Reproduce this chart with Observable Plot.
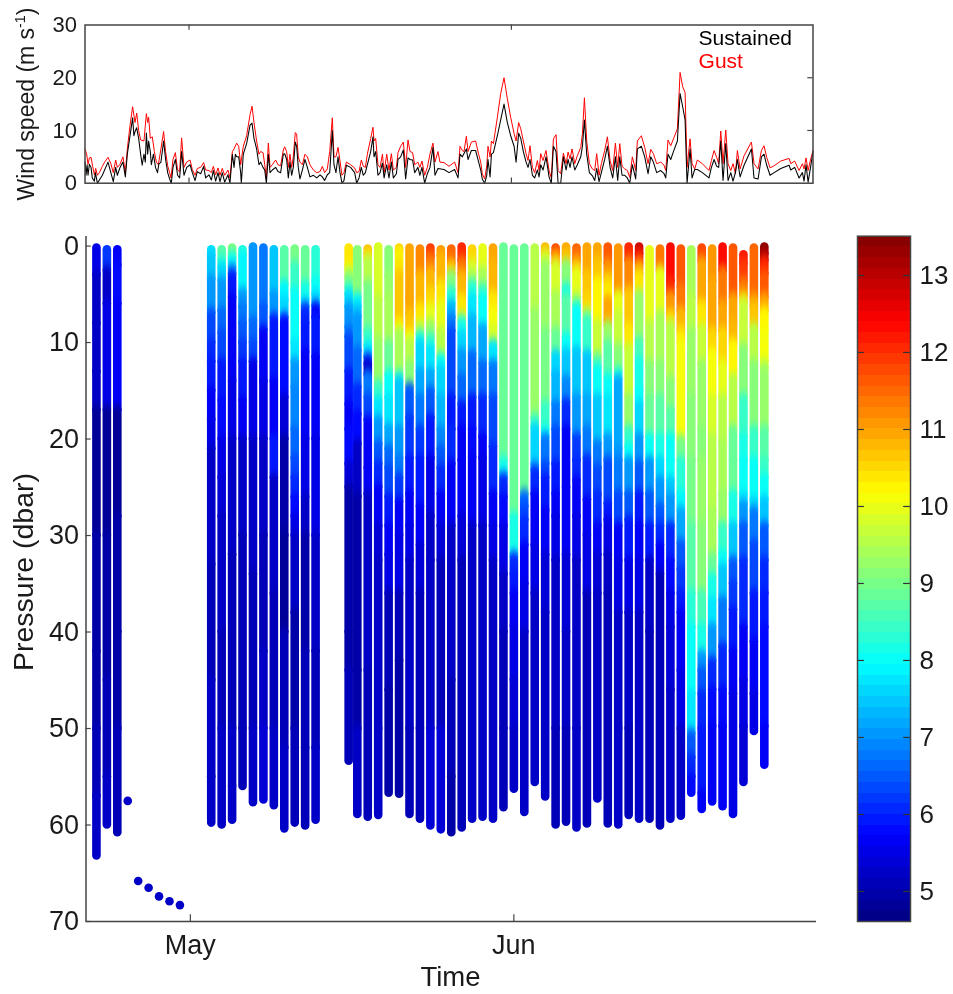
<!DOCTYPE html>
<html>
<head>
<meta charset="utf-8">
<script src="https://cdn.jsdelivr.net/npm/d3@7"></script>
<script src="https://cdn.jsdelivr.net/npm/@observablehq/plot@0.6"></script>
<style>
html,body{margin:0;padding:0;background:#fff}
#c{position:relative;width:953px;height:994px;overflow:hidden;filter:blur(0.35px)}
#c svg{position:absolute;left:0;top:0}
</style>
</head>
<body>
<div id="c"></div>
<script>
// x values: days since 21 April
const monthTicks = [10, 41];
const monthLabels = ["May", "Jun"];

const gust = [[0,6.5],[.16,5.5],[.29,3.6],[.42,4.8],[.58,4.9],[.74,3.2],[.9,1.6],[1.03,2.8],[1.19,1.5],[1.38,2],[1.67,3.2],[1.89,4],[2.21,4.9],[2.47,3.8],[2.72,2],[2.95,4.4],[3.11,3],[3.37,3.6],[3.65,5],[3.88,2],[4.07,6.5],[4.33,11],[4.58,14.5],[4.81,11.5],[4.97,13.3],[5.16,10],[5.35,8.2],[5.67,8],[5.9,13.2],[6.03,11.5],[6.12,12.5],[6.28,8.5],[6.47,8.8],[6.67,6],[6.86,4],[7.05,3.5],[7.3,6.5],[7.56,9.8],[7.75,6],[7.95,3.3],[8.14,2],[8.27,1],[8.46,4.5],[8.69,5.8],[8.9,2.5],[9.1,2.2],[9.29,8.6],[9.52,3],[9.78,4],[10.1,4.4],[10.32,2.6],[10.58,1.5],[10.8,2.8],[11.12,3],[11.41,3.9],[11.6,2.5],[11.92,2.4],[12.15,2],[12.34,3.2],[12.56,1.6],[12.79,2.9],[12.98,1.5],[13.2,2.8],[13.43,1.5],[13.75,2.5],[13.94,1],[14.17,6],[14.33,6.5],[14.58,7.6],[14.78,7],[14.97,3.5],[15.22,7],[15.54,9],[15.87,13],[16.06,14.6],[16.25,11.5],[16.5,8],[16.73,5.5],[16.89,6],[17.12,5.8],[17.28,3.5],[17.44,1],[17.63,7.6],[17.79,3],[18.01,3.5],[18.33,4.4],[18.56,3.5],[18.81,3.3],[19.07,6.3],[19.2,6.9],[19.39,6],[19.55,3],[19.71,5.5],[19.87,3],[20.03,5],[20.22,9.6],[20.35,9.3],[20.51,5],[20.67,4],[20.9,3.5],[21.15,5.5],[21.38,5],[21.63,3.5],[21.96,2.5],[22.28,2],[22.6,2.2],[22.82,3.2],[23.04,2],[23.3,2.7],[23.53,6],[23.78,12.4],[23.94,5],[24.13,5],[24.33,6.8],[24.52,4.2],[24.71,1.5],[24.9,2],[25.13,4],[25.54,3.5],[25.93,2.9],[26.12,2],[26.35,2.2],[26.57,4.4],[26.76,3.2],[26.96,3],[27.15,5.5],[27.47,8.5],[27.69,10.6],[27.79,8],[27.95,8.5],[28.17,3.5],[28.37,3],[28.6,5.5],[28.76,2],[29.01,5.5],[29.23,2.5],[29.46,5.6],[29.65,2.5],[29.94,3],[30.1,5.8],[30.35,7],[30.61,7.8],[30.83,3],[31.06,8.2],[31.25,6],[31.5,5.8],[31.7,3.5],[32.01,4],[32.2,3],[32.4,4.2],[32.66,1.5],[32.92,3],[33.17,5.5],[33.46,7.6],[33.65,4],[33.94,6],[34.13,4],[34.52,3.9],[35,3.2],[35.54,4],[35.87,2],[36.06,7],[36.28,6.2],[36.44,6],[36.67,8.9],[36.83,6],[37.15,7.8],[37.56,8],[37.85,5.5],[38.05,4],[38.2,1.8],[38.43,.8],[38.63,3.3],[38.75,7],[38.95,5],[39.08,8],[39.27,7.5],[39.65,12.5],[39.97,17],[40.29,20],[40.61,16],[40.93,12.5],[41.26,9.4],[41.45,8],[41.7,11.5],[41.9,10.3],[42.15,8],[42.41,5.6],[42.6,4.3],[42.79,7.1],[43.02,3],[43.24,2],[43.5,4.3],[43.66,2.4],[43.82,5.6],[44.04,4.3],[44.33,6.2],[44.62,2.4],[44.84,1],[45.04,8.4],[45.29,9.2],[45.49,2.4],[45.74,1.8],[46,5.7],[46.26,3.7],[46.45,5.9],[46.64,4.6],[46.83,6.5],[47.09,3.7],[47.34,5.2],[47.67,6.8],[47.83,9.4],[48.02,16.2],[48.24,8],[48.5,3.7],[48.79,2.7],[49.01,2.4],[49.2,5.6],[49.43,1.5],[49.65,3.7],[49.97,6.2],[50.23,8.8],[50.49,4.3],[50.74,2.4],[51,7.6],[51.22,3],[51.42,7.5],[51.64,3.2],[51.9,2.7],[52.15,2.4],[52.38,1.1],[52.63,5],[52.95,2.4],[53.11,8],[53.5,9],[53.82,6.8],[54.14,3.7],[54.4,6.4],[54.65,5.6],[54.97,3.7],[55.36,4],[55.68,3.4],[55.84,2.4],[56.06,8.2],[56.32,7.1],[56.58,8.4],[56.96,10.3],[57.22,21],[57.47,18.3],[57.7,17.2],[57.89,3],[58.18,8.4],[58.37,3.7],[58.63,2.7],[58.88,4.4],[59.36,3.7],[60,2.4],[60.23,4.3],[60.49,6.2],[60.74,4.9],[60.93,3.7],[61.13,9.9],[61.35,3.7],[61.61,10.1],[61.83,3.7],[62.09,2.4],[62.31,3.7],[62.54,1.8],[62.73,6.2],[62.99,2.7],[63.37,5.2],[64.08,7.8],[64.33,3.7],[64.72,2.7],[65.04,6.2],[65.29,7.1],[65.55,4.9],[65.87,2.9],[66.26,3.3],[66.9,4.2],[67.7,4.7],[67.86,3.7],[68.24,4.2],[68.66,2.4],[68.98,3.7],[69.14,2.7],[69.33,4.8],[69.53,2.4],[69.78,4.6],[70,6.2]];

const sustained = [[0,4],[.1,1.5],[.2,3.5],[.29,1.5],[.42,3.6],[.58,3],[.7,1],[.9,.4],[1,2],[1.19,0],[1.38,.6],[1.67,1.5],[2.21,4],[2.72,.3],[2.95,3],[3.11,1.5],[3.37,3],[3.65,4],[3.88,1.2],[4.07,5.5],[4.58,12.4],[4.7,9],[4.81,9.8],[4.97,10.5],[5.16,8.5],[5.35,5.5],[5.5,3.4],[5.67,5.5],[5.8,4],[5.9,9.5],[6.03,5.5],[6.12,8],[6.28,6],[6.38,3.5],[6.58,5.5],[6.78,3],[6.97,2],[7.1,3.6],[7.3,4],[7.56,8],[7.75,4.5],[7.95,2],[8.14,.8],[8.3,0],[8.46,3],[8.69,4.5],[8.9,1.5],[9.1,1],[9.29,6],[9.52,1.5],[9.78,3],[10.1,3.5],[10.32,2],[10.58,.5],[10.8,2.2],[11.12,1.8],[11.41,3.2],[11.6,1],[11.92,1.6],[12.15,.6],[12.34,2.4],[12.56,.4],[12.79,2],[12.98,.3],[13.2,2],[13.43,.2],[13.75,1.6],[13.94,0],[14.17,5.5],[14.33,3],[14.46,5.5],[14.58,5],[14.78,5],[14.97,2],[15.03,0],[15.22,5.5],[15.54,7.5],[15.87,11],[16.06,11.4],[16.25,8.5],[16.5,6.5],[16.73,3.5],[16.89,4],[17.12,3],[17.28,2.5],[17.44,0],[17.63,5.5],[17.79,2],[18.01,2.5],[18.33,3],[18.56,2.2],[18.81,2],[19.07,5.5],[19.2,5.6],[19.39,4.5],[19.55,1],[19.71,4],[19.87,1.5],[20.03,3],[20.22,7.8],[20.35,7],[20.51,3],[20.67,.8],[20.9,2.5],[21.15,4.5],[21.38,3],[21.63,1.2],[21.96,1.5],[22.28,1],[22.6,1.6],[22.82,1.2],[23.04,.5],[23.3,1.6],[23.53,2],[23.78,10],[23.94,3.5],[24.13,2],[24.33,5],[24.52,2],[24.71,0],[24.9,.5],[25.13,3.4],[25.54,3],[25.93,2],[26.12,0],[26.35,1],[26.57,3],[26.76,1.5],[26.96,2],[27.15,3.5],[27.47,6],[27.69,8.8],[27.79,5],[27.95,6],[28.17,1.5],[28.37,2],[28.6,3.8],[28.76,1],[29.01,3.5],[29.23,1],[29.46,4],[29.65,1],[29.94,1.8],[30.1,4.5],[30.35,5],[30.61,6.3],[30.83,.8],[31.06,4.8],[31.25,4.5],[31.5,4.4],[31.7,2],[32.01,3],[32.2,1.5],[32.4,3],[32.66,0],[32.92,1.8],[33.17,3],[33.46,6.8],[33.65,1.5],[33.94,2.8],[34.52,2.6],[35,2],[35.54,2.6],[35.87,1],[36.06,5.5],[36.28,5],[36.67,6.5],[36.83,4.5],[37.15,6.2],[37.56,6.2],[37.85,4],[38.05,2.5],[38.2,.8],[38.43,0],[38.63,1.5],[38.75,4.5],[38.95,1.2],[39.08,5.5],[39.27,5.8],[39.65,9],[39.97,12],[40.29,15],[40.61,11.5],[40.93,9],[41.26,7],[41.45,4],[41.7,9.5],[41.9,8.5],[42.15,6],[42.41,4],[42.6,3],[42.79,4.5],[43.02,1.5],[43.24,1],[43.5,2.5],[43.66,1.2],[43.82,3.5],[44.04,2.5],[44.33,5],[44.62,1.2],[44.84,0],[45.04,7],[45.29,6],[45.49,0],[45.74,0],[46,5],[46.26,2.5],[46.45,4.5],[46.64,3],[46.83,5],[47.09,2.5],[47.34,3.5],[47.67,5],[47.83,7],[48.02,12],[48.24,5.5],[48.5,2],[48.79,1.4],[49.01,.5],[49.2,2.8],[49.43,.3],[49.65,2],[49.97,4.5],[50.23,7],[50.49,3],[50.74,1],[51,5],[51.22,.5],[51.42,5],[51.64,1.5],[51.9,1.5],[52.15,1],[52.38,0],[52.63,3.5],[52.95,.8],[53.11,6.5],[53.5,7],[53.82,5],[54.14,1.8],[54.4,5],[54.65,4],[54.97,2],[55.36,2.4],[55.68,1.8],[55.84,1],[56.06,5.5],[56.32,4.5],[56.58,6],[56.96,8],[57.22,17],[57.47,14.5],[57.7,12],[57.89,0],[58.18,6.5],[58.37,1],[58.63,2.6],[58.88,2.6],[59.36,2],[60,1],[60.23,3],[60.49,4.5],[60.74,3.2],[60.93,3],[61.13,8],[61.35,.5],[61.61,7.5],[61.83,.5],[62.09,2],[62.31,.4],[62.54,2],[62.73,4.5],[62.99,1.2],[63.37,3.4],[64.08,6.5],[64.33,1],[64.72,.8],[65.04,5],[65.29,5.5],[65.55,3.4],[65.87,1.5],[66.26,2],[66.9,2.8],[67.7,3.4],[67.86,2.5],[68.24,3],[68.66,1],[68.98,2],[69.14,.4],[69.33,3.5],[69.53,.2],[69.78,3.2],[70,6]];

// [day, bottom pressure, [pressure, temperature, ...]]
const profiles = [
[1,63.2,[.2,5.5,3,5.2,8,5.3,13,5.2,17,4.85,30,4.9,42,5,50,5.1,57,5.2]],
[2,60,[.4,6.2,2.5,5.2,6,5.5,17,4.8,30,4.95,45,5.05,55,5.25]],
[3,60.8,[.4,5.7,2,5.8,6,5.6,17,4.85,28,4.95,40,5,50,5.15]],
[12,59.8,[.4,7.7,1,7.4,3.4,7,6.9,6.4,10,6.1,12,5.9,15,5.6,18,5.45,21,5.3,33,5.15,45,5.2,55,5.25]],
[13,60,[.4,8.7,1.5,8.1,2.2,7.6,3.6,7.1,6.7,6.6,9,6.3,12,6,16,5.8,20,5.5,24,5.35,28,5.25,40,5.15,50,5.3]],
[14,59.5,[.2,9.1,.8,8.6,1.2,8,2.2,7.1,2.9,5.9,5.3,5.7,14,5.5,20,5.3,32,5.15,50,5.2,56,5.25]],
[15,56,[.4,8.3,1,7.9,4.8,7.1,6.3,6.8,8,6.5,10,6.2,12,6,16,5.7,20,5.3,30,5.1,50,5.05]],
[16,57.7,[.1,7,7.7,6.6,10,6.3,12,5.5,20,5.2,34,5.05,50,5.3]],
[17,57.4,[.2,6.8,6.3,6.5,8.7,5.6,14,5.45,20,5.3,30,5.1,42,5.2,50,5.4]],
[18,58,[.4,7.4,5,7.1,7.4,5.9,14,5.7,20,6,24,5.3,36,5.05,50,5.25]],
[19,60.4,[.4,8.7,4,7.9,5.6,7.6,7.4,5.8,15.7,5.4,20,4.9,30,4.85,40,5.05,52,5.2]],
[20,59.8,[.3,9,2,8.4,4.6,8,10,7.8,12,7.1,14.6,6.9,19,6.6,22,6.4,24,6.1,26,5.8,28,5.55,30,5.3,38,5,50,5.15]],
[21,60.1,[.4,8.9,4,8.2,5.5,7.7,6.3,6.1,8,6,11,5.7,20,5.5,26,5.25,30,5,42,5.05,52,5.15]],
[22,59.5,[.4,8.3,3.6,8,5,7.6,6.2,5.7,7.4,6,11.5,5.7,20,5.5,30,5.25,42,5.1,52,5.25]],
[25.17,53.4,[.2,10.4,2,10.2,2.5,9.6,3.2,9,4.3,8.3,5,7.6,6.3,7.1,8.4,6.8,9.4,6.3,13,5.9,16.4,5.6,19,5.8,22.6,5.4,25,5,40,5,44,5.05]],
[26,58.9,[.4,9.1,5.3,7.9,6.3,7.4,7.3,7.1,10.8,6.6,14.6,6.1,17.4,5.8,20.5,5.2,26,4.95,44,5,50,5.25]],
[27,59.2,[.3,10.8,.8,10.4,1.3,9.6,3.9,9,8.8,8.4,10.3,7.7,11.5,6.1,12.2,5.3,13.3,6.7,15.7,6.4,18,5.7,23,5.7,25.7,5.3,44,5.15]],
[28,59,[.1,9.8,5.6,9.5,9.8,9.2,14.3,8.4,16,7.8,18,7.1,20.5,6.5,22.6,6.1,25,5.6,29,5.4,32.6,5.25,50,5.25]],
[29,56.7,[.4,9.1,3.2,9.2,5.3,9.4,10.1,8.9,13.3,8,15.7,7.7,18.8,7.2,21,6.6,23,6.3,26,6,29,5.7,32,5.45,36,5.15,46,5]],
[30,56.8,[.2,10.8,.5,10.2,1.5,10.4,2.9,10.7,8,10.2,8.8,9.4,13.3,8.3,14,7.5,19,7,22,6.8,24,6.2,26.5,5.7,30,5.45,36,5.15,43,5]],
[31,58.9,[.2,11,5.3,11,7,10.7,9.1,10.1,9.8,9.6,12.2,9.1,14.6,6.5,17.8,6.2,22,5.9,25.7,5.6,29,5.45,32.6,5.25,50,5.15]],
[32,59.4,[.3,11.2,2.9,10.8,6.3,10.4,8,9.7,9.1,8.3,10,7.6,13,7.2,15.7,6.7,19,6.2,22,6,27,5.6,31,5.35,36,5.15,50,5.15]],
[33,60.1,[.2,11.9,1.1,11.3,2.5,10.8,4.6,10.5,6.3,10,8,9.2,9.4,8.4,10.5,7.7,13,7.2,15,6.5,17.8,5.9,22,5.5,28,5.3,32.6,5.2,50,5.35]],
[34,60.5,[.4,11.1,1,10.8,3.9,10.4,6,10,8.8,9.6,11.5,8,12.6,7.6,15.7,7.3,19,6.9,21,6.5,23,6.1,25.7,5.6,29,5.35,32.6,5.15,50,5.35]],
[35,60.8,[.3,11.5,1.8,10.7,2.9,9.1,4.6,8.3,6,7.3,7.4,6.7,8.8,6.3,15.7,5.9,19,6.1,22.6,5.6,29,5.2,45,5.05,55,5]],
[36,60.3,[.1,12,1.5,11.3,2.9,10.8,5.3,10.4,7.2,9.6,7.7,8.1,9.1,7.6,11,7,13.6,6.6,16.4,5.9,19,5.7,22.2,5.6,28,5.35,32.6,5.15]],
[37,59.4,[.3,10.5,1.8,9.8,2.9,9.4,3.9,8.3,5.3,7.8,7.4,7.3,11.2,6.6,15.7,6,19,5.8,21.9,5.6,29,5.25]],
[38,59.2,[.2,10,2.5,9.4,4.3,8.5,5.3,8,8.4,7.2,12.2,6.6,15.7,6.1,19.8,5.6,22,5.5,29,5.25]],
[39,59.4,[.2,11,1.8,10.8,5,10.4,6.7,10.1,8.4,9.8,10.1,7.8,12.2,6.8,15.7,6.3,20.8,6.1,25.7,5.7,29,5.45,32.6,5.25]],
[40,58.2,[.1,8.8,22.2,8.2,23.5,7.6,24,6.1,26,5.75,29,5.5,34,5.3,40,5.15,50,5.1]],
[41,56.3,[.3,8.9,28,8.2,31.9,7.6,32.2,6.1,34,5.9,36,5.7,39.4,5.5,45,5.35,50,5.25]],
[42,58.7,[.2,8.9,25.7,6.6,27,6.3,28.4,6.1,31,5.7,35,5.5,40,5.3]],
[43,55.6,[.2,9.6,6.7,9.2,15.7,9.3,17.8,8.5,18.8,7.6,22.6,7.2,23.2,6.1,25.7,5.7,31,5.45,36,5.25]],
[44,57.1,[.1,10.8,.8,9.8,1.8,9.2,8.8,9,16.4,8.5,19,8,19.8,6.7,22.6,6.4,24,6,27.4,5.6,32,5.4,38,5.25]],
[45,60,[.2,11.9,.8,11,1.8,9.8,5,9.4,8.8,8.9,11.2,7.6,13.3,7.3,16.4,6.8,19,6.3,22.6,6,25.7,5.7,28,5.5,32.6,5.25,50,5.15]],
[46,59.7,[.1,11,.8,10.7,1.8,9.1,4.3,8.2,5.3,8.7,9.4,8,11,7.4,13.8,6.9,16.2,6.1,19,5.7,25,5.6,32,5.35,40,5.2,50,5.15]],
[47,60.3,[.2,11.5,1.5,10.8,2.5,10,5.3,9.2,6.2,8,10.8,7.5,15.7,7,19.8,6.2,22.2,6.1,24.3,5.7,28,5.45,32.6,5.25,50,5.2]],
[48,59.9,[.1,10.9,2.9,10.7,5.3,10.5,6.7,9.6,7.4,8.5,11.2,7.5,15.7,7.2,19,6.8,22,6.1,26.3,5.7,30,5.45,36,5.15]],
[49,57.3,[.1,10.9,1.5,10.6,3.6,10.2,8,9.7,11.5,8.7,12.6,8,15.7,7.5,20.5,6.8,23,6.4,25.7,6.1,29,5.6,32,5.4,36,5.2]],
[50,59.9,[.1,11.6,1.8,11.1,3.2,10.5,4.6,10.3,5.5,11,7.7,10.8,8.2,9.2,10.1,8.7,13.6,8,15.7,7.7,19.8,7,22.2,6.3,26.7,6,28.4,5.5,32,5.3,36,5.15]],
[51,60,[.2,11.1,5,10,7,9.7,10.5,9.1,13,8.2,13.8,7.2,21,7,22.2,6.8,25.7,6.3,29,5.7,32.6,5.45,38,5.3,50,5.2]],
[52,59,[.1,12.1,1.5,11.2,4.6,10.7,8.4,10.4,10.5,9.7,15.7,9.3,19,8.5,20.8,8,22.2,7,25.7,6.5,28.4,6,32.6,5.5,38,5.3,50,5.15]],
[53,59.4,[.1,12.9,.8,12,1.8,11,2.9,10.4,4.9,9.2,9.8,8.6,11.9,8.2,15,8,16.4,7.6,19.8,7,22.6,6.5,25.7,6,29,5.7,32.6,5.45,38,5.25]],
[54,59.4,[.4,10,8,9.6,12.2,9.1,15.7,8.8,19.8,8,22.2,7.1,25.7,6.5,29,5.9,32.6,5.3,40,5.15]],
[55,60.1,[.3,11.4,2.5,9.9,7,9.4,12.2,9.1,15.7,8.7,19.8,8.1,22.2,7.6,24.3,7,27,6.5,29,6.1,31,5.6,34,5.1]],
[56,59.4,[.1,12.3,3.6,12,5,11.1,7,10.5,8,9.6,13.9,9.1,17,8.7,19.8,8,22.2,8,24.3,7.5,26,7,29,6.1,32.6,5.8,36,5.55,39.5,5.35,46,5.2]],
[57,59.1,[.3,11.7,4.3,11.3,6.7,10.8,8.8,10.4,10,10.1,20,9,22.2,8.3,25.7,7.9,27.4,7.2,30.8,6.5,33.5,6.2,36,5.9,38,5.6,44,5.45,50,5.25]],
[58,56.7,[.4,9.4,5.3,9.5,8.8,9.3,15.7,9.1,22.2,9,29,8.7,36,8.3,39.5,8,46.4,7.8,50.5,6.5,53,6.1,55,5.8]],
[59,58.4,[.2,11.8,1.5,11,6,10.4,8.4,9.7,12.2,9.3,19,9.1,22.2,9.2,29,9.06,36,8.6,39.5,8.2,42.3,7.1,44,6.5,46.4,6.1,50,5.9,56.7,5.7]],
[60,57.6,[.3,11.1,3.6,10.9,8.8,10.5,11,10.1,15.7,9.8,19.8,9.5,27.4,9.4,32.2,8.9,34.3,8.2,36.7,7.8,39.5,7,43,6.1,46,5.8,49.8,5.6]],
[61,58.1,[.1,12.3,2.5,11.3,6,11,8.8,10.5,12.2,10,15.7,9.6,20.5,9.4,25.7,9.2,29,8.5,31.9,8,33.3,7.5,36.7,6.8,41.5,6.1,46,5.8,49.8,5.6]],
[62,58.9,[.2,11.6,5.3,11,8,10.8,10,10.3,13.6,9.6,19,8.9,22.2,8.8,25.7,8.2,29,7.5,32.6,6.5,35,6.2,37.7,5.9,42,5.7,46.4,5.5]],
[63,55.6,[.9,12.2,1.8,11.9,3.6,11.3,5.1,10.5,5.8,9.7,10.5,9.1,15.7,8.4,19.8,8.1,22.2,8,25.7,7.7,26.7,7,29,6.5,32.6,6.1,39.5,5.7,45,5.5,49.8,5.4]],
[64,50.3,[.2,11.5,5.3,11,6.3,10.7,8.4,9.6,12.2,9.1,19,8.4,22.2,8,26.3,7.6,27.4,6.8,30.8,6.3,36,5.9,41,5.7,46.4,5.5]],
[65,53.8,[.1,13.4,.8,13,1.5,12.1,2.9,11.6,5.3,10.9,6.7,10.3,8.8,10.1,11.9,9.8,12.6,9.2,19,8.7,22.2,8.4,24,8,26.3,7.5,29,6.5,32.6,6.1,36,5.9,39.5,5.8,49.8,5.6]]
];

const dotDays = [4, 5, 6, 7, 8, 9];
const dotPressures = [57.5, 65.8, 66.5, 67.4, 67.9, 68.3];
const dotTemps = [5.2, 5.2, 5.2, 5.2, 5.2, 5.2];

const legendLabels = ["Sustained", "Gust"];
const legendColors = ["#000", "#f00"];
const legendDays = [59, 59];
const legendSpeeds = [27.4, 23.2];

const windTicks = [0, 10, 20, 30];
const pressureTicks = [0, 10, 20, 30, 40, 50, 60, 70];
const colorbarTicks = [5, 6, 7, 8, 9, 10, 11, 12, 13];

const tMin = 4.61, tMax = 13.51, nLevels = 64;
const step = (tMax - tMin) / nLevels;
const band = t => tMin + (Math.min(nLevels - 1, Math.floor((t - tMin) / step)) + .5) * step;
const levels = d3.range(nLevels).map(i => tMin + i * step);
const jetStops = [0, .125, .375, .5, .625, .875, 1].map(f => tMin + f * (tMax - tMin));
const jetColors = ["#000080", "#0000ff", "#00ffff", "#80ff80", "#ffff00", "#ff0000", "#800000"];
const colorScale = {type: "linear", domain: jetStops, range: jetColors, interpolate: "rgb", clamp: true};

const font = "'Liberation Sans', Arial, sans-serif";
const axisColor = "#444";
const textColor = "#1a1a1a";

const segments = profiles.flatMap(([day, bottom, s]) => {
  const out = [];
  for (let i = 0; i < s.length; i += 2)
    out.push({day, p1: s[i], p2: i + 2 < s.length ? s[i + 2] : bottom, t: band(s[i + 1])});
  return out;
});
const dots = dotDays.map((day, i) => ({day, p: dotPressures[i], t: band(dotTemps[i])}));
const toXY = a => a.map(([d, v]) => ({d, v}));

const c = document.getElementById("c");

function addLabel(svg, x, y, size, parts) {
  const t = d3.select(svg).append("text")
    .attr("transform", `translate(${x},${y}) rotate(-90)`)
    .attr("text-anchor", "middle")
    .attr("font-family", font).attr("font-size", size).attr("fill", textColor);
  parts.forEach(([s, sup]) => {
    const ts = t.append("tspan").text(s);
    if (sup) ts.attr("font-size", size * .62).attr("dy", -size * .38);
    else if (parts.length > 1 && s.startsWith(")")) ts.attr("dy", size * .38);
  });
}

// ---- wind panel
const wind = Plot.plot({
  width: 953, height: 215,
  marginLeft: 84.5, marginRight: 140.5, marginTop: 24.5, marginBottom: 32.3,
  style: {fontFamily: font, fontSize: "22px", background: "transparent", color: textColor},
  x: {domain: [0, 70], axis: null},
  y: {domain: [0, 30], axis: null},
  marks: [
    Plot.axisY(windTicks, {anchor: "left", tickSize: 0, tickPadding: 8, label: null, tickFormat: d => d}),
    Plot.line(toXY(gust), {x: "d", y: "v", stroke: "#f00", strokeWidth: 1}),
    Plot.line(toXY(sustained), {x: "d", y: "v", stroke: "#000", strokeWidth: 1.05}),
    Plot.ruleX(monthTicks, {y1: 30, y2: 29, stroke: axisColor, strokeWidth: 1.2}),
    Plot.ruleX(monthTicks, {y1: 0, y2: 1, stroke: axisColor, strokeWidth: 1.2}),
    Plot.ruleY([10, 20], {x1: 69.5, x2: 70, stroke: axisColor, strokeWidth: 1.2}),
    Plot.frame({stroke: axisColor, strokeWidth: 1.5}),
    Plot.text(legendLabels, {
      x: (d, i) => legendDays[i], y: (d, i) => legendSpeeds[i], text: d => d,
      fill: (d, i) => legendColors[i], textAnchor: "start", fontSize: 21
    })
  ]
});
addLabel(wind, 34, 104, 23, [["Wind speed (m s"], ["-1", true], [")"]]);
c.appendChild(wind);

// ---- main panel
const main = Plot.plot({
  width: 953, height: 994,
  marginLeft: 85.5, marginRight: 137, marginTop: 235.9, marginBottom: 73,
  style: {fontFamily: font, fontSize: "27px", background: "transparent", color: textColor},
  x: {domain: [0, 70], axis: null},
  y: {domain: [-1, 70], reverse: true, axis: null},
  color: colorScale,
  marks: [
    Plot.ruleX(segments, {x: "day", y1: "p1", y2: "p2", stroke: "t", strokeWidth: 8.6, strokeLinecap: "round"}),
    Plot.dot(dots, {x: "day", y: "p", r: 4.3, fill: "t"}),
    Plot.axisY(pressureTicks, {anchor: "left", tickSize: 0, tickPadding: 7, label: null, tickFormat: d => d}),
    Plot.axisX(monthTicks, {anchor: "bottom", tickSize: 0, tickPadding: 13, label: null, tickFormat: d => monthLabels[monthTicks.indexOf(d)]}),
    Plot.ruleX(monthTicks, {y1: 70, y2: 69.3, stroke: axisColor, strokeWidth: 1.2}),
    Plot.ruleY(pressureTicks, {x1: 0, x2: .5, stroke: axisColor, strokeWidth: 1.2}),
    Plot.ruleX([0], {stroke: axisColor, strokeWidth: 1.5}),
    Plot.ruleY([70], {stroke: axisColor, strokeWidth: 1.5})
  ]
});
addLabel(main, 33, 572, 28.5, [["Pressure (dbar)"]]);
d3.select(main).append("text")
  .attr("x", 450.5).attr("y", 986).attr("text-anchor", "middle")
  .attr("font-family", font).attr("font-size", 27.5).attr("fill", textColor).text("Time");

// soften colour changes along each profile, keeping the outline of the bars
const defs = d3.select(main).append("defs");
const f = defs.append("filter").attr("id", "alongProfile")
  .attr("filterUnits", "userSpaceOnUse").attr("x", 0).attr("y", 0).attr("width", 953).attr("height", 994)
  .attr("color-interpolation-filters", "sRGB");
f.append("feGaussianBlur").attr("in", "SourceGraphic").attr("stdDeviation", "0 4").attr("result", "b");
f.append("feComponentTransfer").attr("in", "b").attr("result", "o")
  .append("feFuncA").attr("type", "discrete").attr("tableValues", "0 1 1 1 1 1 1 1 1 1 1 1 1 1 1 1");
f.append("feComposite").attr("in", "o").attr("in2", "SourceAlpha").attr("operator", "in");
d3.select(main).select('g[aria-label="rule"]').attr("filter", "url(#alongProfile)");
c.appendChild(main);

// ---- colour bar
const bar = Plot.plot({
  width: 953, height: 994,
  marginLeft: 857, marginRight: 43, marginTop: 235.7, marginBottom: 73,
  style: {fontFamily: font, fontSize: "26px", background: "transparent", color: textColor},
  x: {domain: [0, 1], axis: null},
  y: {domain: [tMin, tMax], axis: null},
  color: colorScale,
  marks: [
    Plot.rect(levels, {x1: 0, x2: 1, y1: d => d, y2: d => d + step, fill: d => band(d + step / 2), shapeRendering: "crispEdges"}),
    Plot.ruleY(colorbarTicks, {x1: 0, x2: .13, stroke: "#333", strokeWidth: 1.2}),
    Plot.ruleY(colorbarTicks, {x1: .87, x2: 1, stroke: "#333", strokeWidth: 1.2}),
    Plot.frame({stroke: axisColor, strokeWidth: 1.5}),
    Plot.axisY(colorbarTicks, {anchor: "right", tickSize: 0, tickPadding: 9, label: null, tickFormat: d => d})
  ]
});
c.appendChild(bar);
</script>
</body>
</html>
